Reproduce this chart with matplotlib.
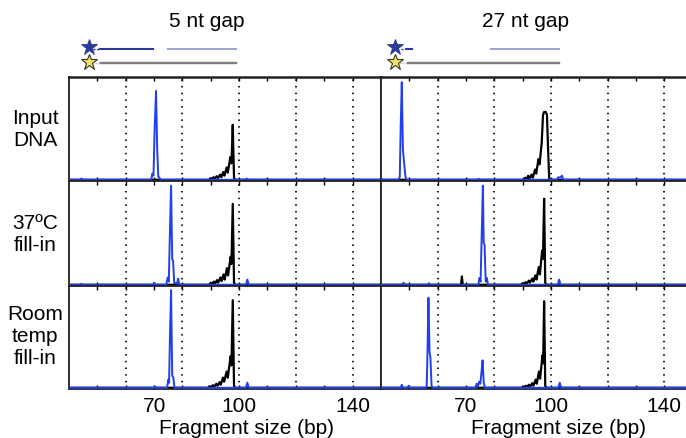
import matplotlib.pyplot as plt
import matplotlib.transforms as mtransforms

plt.rcParams['font.family'] = ['Liberation Sans', 'DejaVu Sans']

BLUE = '#2040f0'
DARK_BLUE = '#2b3a96'
LIGHT_BLUE = '#9ea6d6'
GRAY = '#7f7f7f'

titles = ['5 nt gap', '27 nt gap']
row_labels = ['Input\nDNA', '37ºC\nfill-in', 'Room\ntemp\nfill-in']
tick_pos = [50, 60, 70, 80, 90, 100, 110, 120, 130, 140]
tick_labels = ['', '', '70', '', '', '100', '', '', '', '140']
grid_pos = [60, 80, 100, 120, 140]

# traces: fragment size (bp) vs. normalised signal
# --- 5 nt gap ---
in5_blue_x = [40, 44, 44.4, 44.8, 69.0, 69.4, 69.8, 70.2, 70.7, 71.1, 71.5, 71.9, 72.3, 102.2, 102.7, 103.2, 150]
in5_blue_y = [0, 0, 0.012, 0, 0, 0.06, 0.04, 0.5, 0.865, 0.3, 0.03, 0.02, 0, 0, 0.012, 0, 0]
in5_black_x = [40, 89.5, 89.8, 90.2, 91.0, 91.4, 92.1, 92.5, 93.3, 93.7, 94.4, 94.8, 95.6, 96.0, 96.9, 97.3, 97.75, 98.2, 98.5, 150]
in5_black_y = [0, 0, 0.015, 0.005, 0.025, 0.01, 0.035, 0.015, 0.05, 0.025, 0.075, 0.04, 0.12, 0.07, 0.22, 0.16, 0.535, 0.02, 0, 0]

fill5_blue_x = [40, 44, 44.4, 44.8, 69.7, 70.0, 70.3, 74.3, 74.8, 75.2, 75.5, 76.0, 76.4, 76.7, 77.1, 78.1, 78.5, 78.9, 102.4, 102.9, 103.4, 150]
fill5_blue_y = [0, 0, 0.01, 0, 0, 0.02, 0, 0, 0.07, 0.03, 0.4, 0.955, 0.25, 0.23, 0.02, 0.01, 0.06, 0, 0, 0.05, 0, 0]
fill5_black_x = [40, 89.5, 90.0, 90.4, 91.1, 91.5, 92.2, 92.6, 93.4, 93.8, 94.5, 94.9, 95.7, 96.1, 97.0, 97.3, 97.75, 98.2, 98.5, 150]
fill5_black_y = [0, 0, 0.02, 0.005, 0.03, 0.01, 0.045, 0.02, 0.07, 0.035, 0.1, 0.05, 0.16, 0.09, 0.27, 0.2, 0.78, 0.02, 0, 0]

room5_blue_x = [40, 70.0, 70.3, 70.6, 74.6, 75.0, 75.3, 75.6, 76.0, 76.4, 76.8, 77.2, 102.4, 102.9, 103.4, 150]
room5_blue_y = [0, 0, 0.015, 0, 0, 0.08, 0.05, 0.5, 0.96, 0.12, 0.1, 0, 0, 0.05, 0, 0]
room5_black_x = [40, 89.0, 89.5, 90.0, 90.8, 91.2, 92.0, 92.4, 93.1, 93.5, 94.3, 94.7, 95.6, 96.0, 97.0, 97.3, 97.75, 98.2, 98.5, 150]
room5_black_y = [0, 0, 0.015, 0.005, 0.025, 0.01, 0.04, 0.02, 0.055, 0.03, 0.1, 0.06, 0.16, 0.1, 0.31, 0.22, 0.86, 0.02, 0, 0]

# --- 27 nt gap ---
in27_blue_x = [40, 46.3, 46.7, 47.0, 47.4, 47.8, 48.3, 48.7, 49.1, 74.3, 74.6, 74.9, 102.0, 102.6, 103.2, 103.9, 104.4, 150]
in27_blue_y = [0, 0, 0.03, 0.5, 0.95, 0.3, 0.14, 0.03, 0, 0, 0.01, 0, 0, 0.025, 0.02, 0.04, 0, 0]
in27_black_x = [40, 90.5, 91.0, 91.4, 92.0, 92.4, 93.2, 93.6, 94.4, 94.8, 95.6, 96.0, 96.75, 97.2, 97.6, 98.2, 98.6, 99.0, 99.4, 150]
in27_black_y = [0, 0, 0.02, 0, 0.04, 0.01, 0.05, 0.02, 0.1, 0.06, 0.2, 0.15, 0.36, 0.63, 0.66, 0.66, 0.63, 0.3, 0, 0]

fill27_blue_x = [40, 47.6, 48.0, 48.4, 56.6, 57.0, 57.4, 74.4, 74.8, 75.2, 75.6, 76.0, 76.3, 76.6, 77.0, 77.4, 77.8, 102.4, 102.9, 103.4, 150]
fill27_blue_y = [0, 0, 0.02, 0, 0, 0.015, 0, 0, 0.065, 0.03, 0.5, 0.955, 0.4, 0.385, 0.03, 0.065, 0, 0, 0.05, 0, 0]
fill27_black_x = [40, 68.3, 68.6, 68.9, 89.5, 90.0, 90.4, 91.1, 91.5, 92.2, 92.6, 93.4, 93.8, 94.5, 94.9, 95.7, 96.1, 96.9, 97.2, 97.6, 98.0, 98.3, 150]
fill27_black_y = [0, 0, 0.08, 0, 0, 0.015, 0.005, 0.025, 0.01, 0.04, 0.02, 0.06, 0.03, 0.09, 0.05, 0.17, 0.1, 0.33, 0.25, 0.83, 0.02, 0, 0]

room27_blue_x = [40, 47.0, 47.4, 47.8, 49.4, 49.8, 50.2, 55.8, 56.2, 56.5, 56.8, 57.2, 57.5, 57.9, 58.3, 73.4, 73.8, 74.2, 74.7, 75.1, 75.5, 75.9, 76.3, 76.7, 102.6, 103.1, 103.6, 150]
room27_blue_y = [0, 0, 0.03, 0, 0, 0.02, 0, 0, 0.02, 0.4, 0.885, 0.35, 0.3, 0.02, 0, 0, 0.04, 0.01, 0.06, 0.04, 0.15, 0.27, 0.05, 0, 0, 0.05, 0, 0]
room27_black_x = [40, 89.5, 90.1, 90.5, 91.1, 91.5, 92.2, 92.6, 93.4, 93.8, 94.6, 95.0, 95.8, 96.2, 97.0, 97.25, 97.6, 98.0, 98.3, 150]
room27_black_y = [0, 0, 0.01, 0, 0.02, 0.005, 0.03, 0.01, 0.045, 0.02, 0.08, 0.04, 0.16, 0.09, 0.32, 0.24, 0.85, 0.02, 0, 0]

# duplex schematic above each column, in bp
star_x = [47.2, 45.0]
blue_primer = [(50.9, 69.7), (48.9, 50.9)]
blue_connector = [(48.6, 50.9), (47.0, 48.2)]
downstream = [(74.8, 98.9), (78.8, 102.9)]
template = [(51.2, 98.9), (49.6, 102.9)]
template_connector = [(49.2, 51.2), (46.6, 49.6)]

panels = [
    [(in5_blue_x, in5_blue_y, in5_black_x, in5_black_y),
     (in27_blue_x, in27_blue_y, in27_black_x, in27_black_y)],
    [(fill5_blue_x, fill5_blue_y, fill5_black_x, fill5_black_y),
     (fill27_blue_x, fill27_blue_y, fill27_black_x, fill27_black_y)],
    [(room5_blue_x, room5_blue_y, room5_black_x, room5_black_y),
     (room27_blue_x, room27_blue_y, room27_black_x, room27_black_y)],
]

fig = plt.figure(figsize=(6.86, 4.39), dpi=100)

W = 686.0
H = 439.0
col_x0 = [69.0, 380.8]
col_w = 311.9
row_top = [78.0, 182.0, 287.0]
row_h = [104.0, 105.0, 103.0]

title_x = [88.7, 91.0]
FS = 15

for r in range(3):
    for c in range(2):
        bx, by, kx, ky = panels[r][c]
        ax = fig.add_axes([col_x0[c] / W, 1 - (row_top[r] + row_h[r]) / H,
                           col_w / W, row_h[r] / H])
        for g in grid_pos:
            ax.axvline(g, color='black', lw=1.3, ls=(0, (0.8, 2.9)), zorder=1)
        ax.plot(kx, ky, color='black', lw=1.6, zorder=2)
        ax.plot(bx, by, color=BLUE, lw=1.4, zorder=3)
        ax.set_xlim(40, 150)
        ax.set_ylim(-0.012, 1.0)
        ax.set_yticks([])
        ax.set_xticks(tick_pos)
        ax.tick_params(axis='x', direction='in', top=True, bottom=True,
                       length=3, width=1.0, pad=5, labelsize=FS)
        if r == 2:
            ax.set_xticklabels(tick_labels)
            ax.text(102.5, -0.37, 'Fragment size (bp)', fontsize=FS,
                    ha='center', va='center',
                    transform=mtransforms.blended_transform_factory(ax.transData, ax.transAxes))
        else:
            ax.set_xticklabels([])
        for s in ax.spines.values():
            s.set_linewidth(1.3)
            s.set_color('#222222')
        if r == 0:
            ax.spines['top'].set_linewidth(1.8)
            tr = mtransforms.blended_transform_factory(ax.transData, ax.transAxes)
            ax.text(title_x[c], 1.54, titles[c], fontsize=FS, ha='center',
                    va='center', transform=tr, clip_on=False)
            y1, y2 = 1.266, 1.132
            ax.plot(blue_connector[c], [y1, y1], color=DARK_BLUE, lw=1.0,
                    ls=(0, (1.5, 1)), transform=tr, clip_on=False)
            ax.plot(blue_primer[c], [y1, y1], color=DARK_BLUE, lw=1.5,
                    transform=tr, clip_on=False)
            ax.plot(downstream[c], [y1, y1], color=LIGHT_BLUE, lw=1.5,
                    transform=tr, clip_on=False)
            ax.plot(template_connector[c], [y2, y2], color='#b0b0b0', lw=1.0,
                    ls=(0, (1, 1)), transform=tr, clip_on=False)
            ax.plot(template[c], [y2, y2], color=GRAY, lw=1.7,
                    transform=tr, clip_on=False)
            ax.plot([star_x[c]], [1.29], marker='*', ms=12, color=DARK_BLUE,
                    mec=DARK_BLUE, mew=0.6, transform=tr, clip_on=False)
            ax.plot([star_x[c]], [1.145], marker='*', ms=12, color='#f5e15a',
                    mec='#333333', mew=0.8, transform=tr, clip_on=False)
        if c == 0:
            ax.text(-0.109, 0.5 if r < 2 else 0.52, row_labels[r], fontsize=FS,
                    ha='center', va='center', multialignment='center',
                    linespacing=1.2, transform=ax.transAxes)

fig.savefig('out.png', dpi=100)
